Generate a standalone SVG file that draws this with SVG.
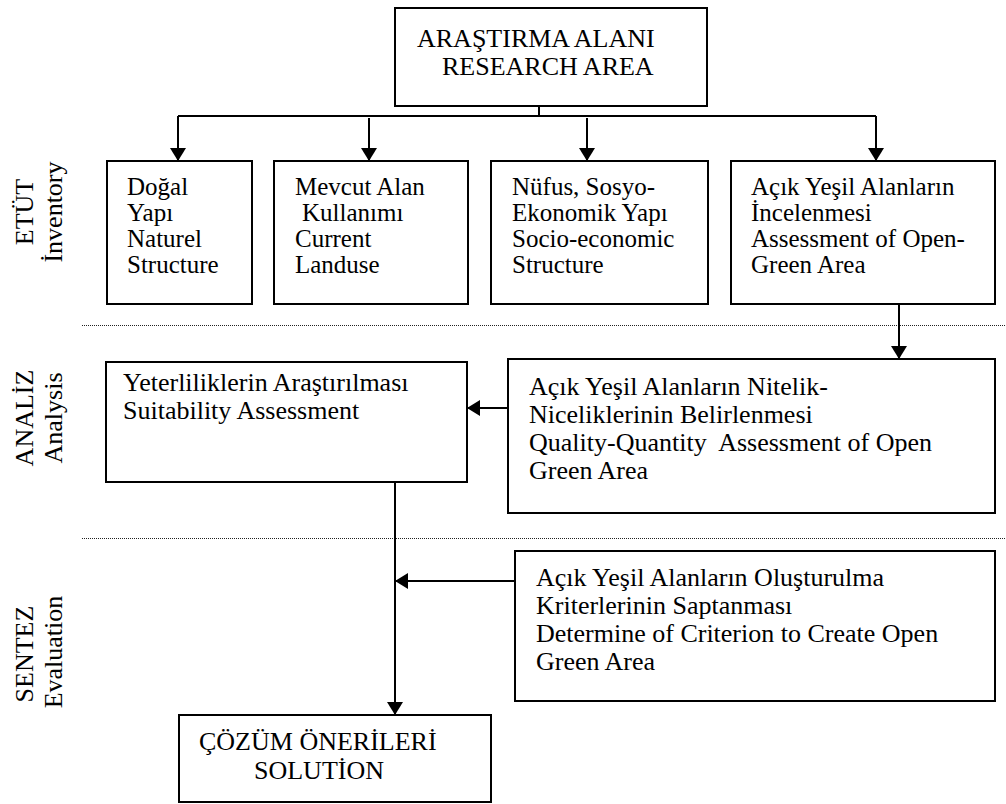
<svg xmlns="http://www.w3.org/2000/svg" width="1006" height="804" viewBox="0 0 1006 804">
<style>
.box{fill:#fff;stroke:#000;stroke-width:2}
.t{font-family:"Liberation Serif","Times New Roman",serif;font-size:26px;fill:#000}
.s{font-size:25px}
.conn{stroke:#000;stroke-width:2;fill:none}
.dot{stroke:#222;stroke-width:1;stroke-dasharray:1 1;fill:none}
</style>
<defs>
<marker id="ah" markerUnits="userSpaceOnUse" viewBox="0 0 13 16" refX="13" refY="8" markerWidth="13" markerHeight="16" orient="auto">
<path d="M0,0 L13,8 L0,16 z" fill="#000"/>
</marker>
</defs>
<rect width="1006" height="804" fill="#fff"/>

<g id="separators">
<line class="dot" x1="82" y1="325.5" x2="1006" y2="325.5"/>
<line class="dot" x1="82" y1="538.5" x2="1006" y2="538.5"/>
</g>

<g id="phase-labels" class="t" text-anchor="middle">
<text transform="translate(33,212) rotate(-90)">ETÜT</text>
<text transform="translate(62,212) rotate(-90)">İnventory</text>
<text transform="translate(33,418) rotate(-90)">ANALİZ</text>
<text transform="translate(62,418) rotate(-90)">Analysis</text>
<text transform="translate(33,654) rotate(-90)">SENTEZ</text>
<text transform="translate(62,652) rotate(-90)">Evaluation</text>
</g>

<g id="connectors">
<path class="conn" d="M539,106 V116"/>
<path class="conn" d="M178,116 H876"/>
<path class="conn" d="M178,116 V161" marker-end="url(#ah)"/>
<path class="conn" d="M369,118 V161" marker-end="url(#ah)"/>
<path class="conn" d="M587,118 V161" marker-end="url(#ah)"/>
<path class="conn" d="M876,116 V161" marker-end="url(#ah)"/>
<path class="conn" d="M899,304 V359" marker-end="url(#ah)"/>
<path class="conn" d="M508,408 H467" marker-end="url(#ah)"/>
<path class="conn" d="M395,482 V715" marker-end="url(#ah)"/>
<path class="conn" d="M515,581 H395" marker-end="url(#ah)"/>
</g>

<g id="research-area">
<rect class="box" x="395" y="8" width="312" height="98"/>
<text class="t" x="417" y="47">ARAŞTIRMA ALANI</text>
<text class="t" x="442" y="75">RESEARCH AREA</text>
</g>

<g id="natural-structure">
<rect class="box" x="107" y="161" width="145" height="143"/>
<text class="t s" x="127" y="195">Doğal</text>
<text class="t s" x="127" y="221">Yapı</text>
<text class="t s" x="127" y="247">Naturel</text>
<text class="t s" x="127" y="273">Structure</text>
</g>

<g id="current-landuse">
<rect class="box" x="274" y="161" width="194" height="143"/>
<text class="t s" x="295" y="195">Mevcut Alan</text>
<text class="t s" x="302" y="221">Kullanımı</text>
<text class="t s" x="295" y="247">Current</text>
<text class="t s" x="295" y="273">Landuse</text>
</g>

<g id="socio-economic">
<rect class="box" x="491" y="161" width="217" height="143"/>
<text class="t s" x="512" y="195">Nüfus, Sosyo-</text>
<text class="t s" x="512" y="221">Ekonomik Yapı</text>
<text class="t s" x="512" y="247">Socio-economic</text>
<text class="t s" x="512" y="273">Structure</text>
</g>

<g id="open-green-assessment">
<rect class="box" x="731" y="161" width="264" height="143"/>
<text class="t s" x="751" y="195">Açık Yeşil Alanların</text>
<text class="t s" x="751" y="221">İncelenmesi</text>
<text class="t s" x="751" y="247">Assessment of Open-</text>
<text class="t s" x="751" y="273">Green Area</text>
</g>

<g id="suitability">
<rect class="box" x="106" y="362" width="361" height="120"/>
<text class="t" x="123" y="391">Yeterliliklerin Araştırılması</text>
<text class="t" x="123" y="419">Suitability Assessment</text>
</g>

<g id="quality-quantity">
<rect class="box" x="508" y="359" width="487" height="154"/>
<text class="t" x="529" y="395">Açık Yeşil Alanların Nitelik-</text>
<text class="t" x="529" y="423">Niceliklerinin Belirlenmesi</text>
<text class="t" x="529" y="451" xml:space="preserve">Quality-Quantity  Assessment of Open</text>
<text class="t" x="529" y="479">Green Area</text>
</g>

<g id="criteria">
<rect class="box" x="515" y="551" width="480" height="150"/>
<text class="t" x="536" y="586">Açık Yeşil Alanların Oluşturulma</text>
<text class="t" x="536" y="614">Kriterlerinin Saptanması</text>
<text class="t" x="536" y="642">Determine of Criterion to Create Open</text>
<text class="t" x="536" y="670">Green Area</text>
</g>

<g id="solution">
<rect class="box" x="179" y="715" width="312" height="87"/>
<text class="t" x="199" y="750">ÇÖZÜM ÖNERİLERİ</text>
<text class="t" x="254" y="779">SOLUTİON</text>
</g>
</svg>
